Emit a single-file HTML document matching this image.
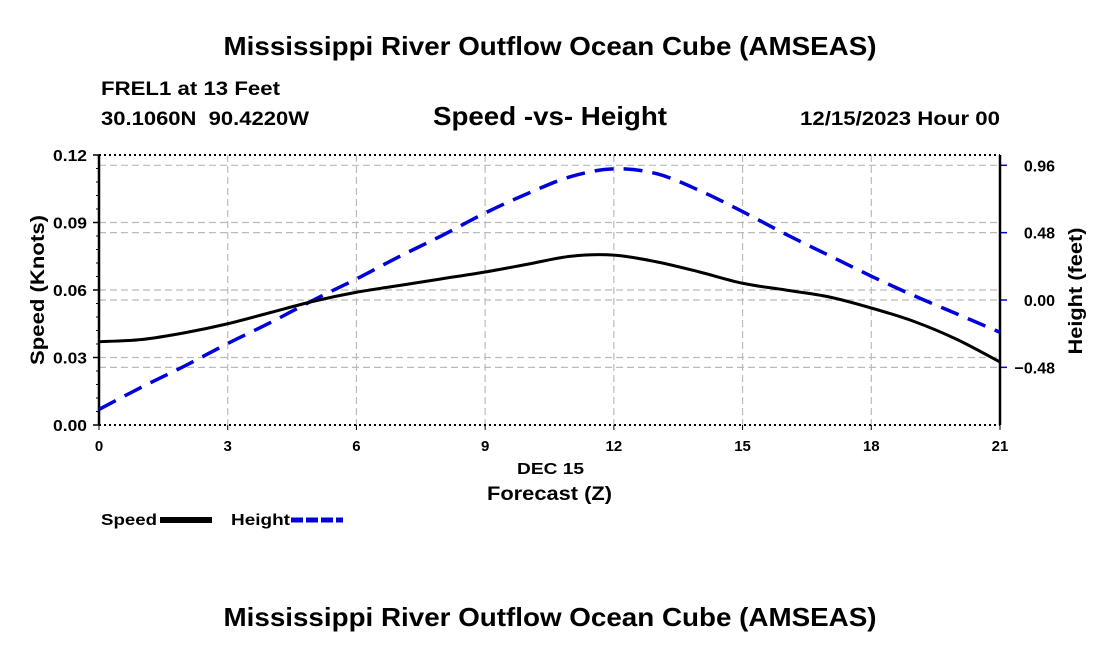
<!DOCTYPE html>
<html><head><meta charset="utf-8"><style>
body{margin:0;background:#fff;}
svg{display:block;font-family:"Liberation Sans",Arial,sans-serif;font-weight:bold;}
</style></head><body>
<svg id="chart" width="1100" height="650" viewBox="0 0 1100 650">
<text x="550" y="55" text-anchor="middle" font-size="26" textLength="653" lengthAdjust="spacingAndGlyphs">Mississippi River Outflow Ocean Cube (AMSEAS)</text>
<text x="101" y="95" font-size="19" textLength="179" lengthAdjust="spacingAndGlyphs">FREL1 at 13 Feet</text>
<text x="101" y="125" font-size="19" textLength="208" lengthAdjust="spacingAndGlyphs" xml:space="preserve">30.1060N  90.4220W</text>
<text x="433" y="125" font-size="26" textLength="234" lengthAdjust="spacingAndGlyphs">Speed -vs- Height</text>
<text x="800" y="125" font-size="19" textLength="200" lengthAdjust="spacingAndGlyphs">12/15/2023 Hour 00</text>
<g id="grid"></g>
<g id="axes"></g>
<g id="series"></g>
<text x="517" y="474" font-size="16" textLength="67" lengthAdjust="spacingAndGlyphs">DEC 15</text>
<text x="487" y="500" font-size="19" textLength="125" lengthAdjust="spacingAndGlyphs">Forecast (Z)</text>
<text transform="translate(44,290) rotate(-90)" text-anchor="middle" font-size="19" textLength="150" lengthAdjust="spacingAndGlyphs">Speed (Knots)</text>
<text transform="translate(1082,291) rotate(-90)" text-anchor="middle" font-size="19" textLength="127" lengthAdjust="spacingAndGlyphs">Height (feet)</text>
<g>
<text x="101" y="525" font-size="16" textLength="56" lengthAdjust="spacingAndGlyphs">Speed</text>
<line x1="160" y1="520" x2="212" y2="520" stroke="#000" stroke-width="6"/>
<text x="231" y="525" font-size="16" textLength="59" lengthAdjust="spacingAndGlyphs">Height</text>
<line x1="291" y1="520" x2="343" y2="520" stroke="#0000dd" stroke-width="5" stroke-dasharray="12,3"/>
</g>
<text x="550" y="626" text-anchor="middle" font-size="26" textLength="653" lengthAdjust="spacingAndGlyphs">Mississippi River Outflow Ocean Cube (AMSEAS)</text>
</svg>
<script>
const hours=[0,1,2,3,4,5,6,7,8,9,10,11,12,13,14,15,16,17,18,19,20,21];
const speed=[0.037,0.038,0.041,0.045,0.050,0.055,0.059,0.062,0.065,0.068,0.0715,0.075,0.0755,0.0725,0.068,0.063,0.060,0.057,0.052,0.046,0.038,0.028];
const height=[-0.78,-0.62,-0.47,-0.31,-0.16,0.0,0.15,0.31,0.46,0.62,0.76,0.88,0.935,0.90,0.78,0.63,0.47,0.32,0.17,0.03,-0.10,-0.23];
const xTicks=[0,3,6,9,12,15,18,21];
const leftTicks=[0,0.03,0.06,0.09,0.12];
const leftLabels=["0.00","0.03","0.06","0.09","0.12"];
const rightTicks=[-0.48,0,0.48,0.96];
const rightLabels=["\u22120.48","0.00","0.48","0.96"];

const X0=99,X1=1000,YT=155,YB=425;
const xs=h=>X0+(h/21)*(X1-X0);
const ysL=v=>YB-(v/0.12)*(YB-YT);
const ysR=v=>300-v*140.3;
const NS="http://www.w3.org/2000/svg";
function mk(parent,tag,attrs){const e=document.createElementNS(NS,tag);for(const k in attrs)e.setAttribute(k,attrs[k]);document.getElementById(parent).appendChild(e);return e;}

xTicks.forEach(t=>{
  if(t>0&&t<21){const g=mk('grid','line',{x1:xs(t),x2:xs(t),y1:YT,y2:YB,stroke:'#bbb','stroke-width':1.2,'stroke-dasharray':'7,4'});
  
  }
  const l=mk('axes','text',{x:xs(t),y:451,'text-anchor':'middle','font-size':15});l.textContent=t;
  
  
  mk('axes','line',{x1:xs(t),x2:xs(t),y1:YB,y2:YB+5,stroke:'#000','stroke-width':1});
});
leftTicks.forEach((t,i)=>{
  if(t>0&&t<0.12){const g=mk('grid','line',{x1:X0,x2:X1,y1:ysL(t),y2:ysL(t),stroke:'#bbb','stroke-width':1.2,'stroke-dasharray':'7,4'});
  
  }
  const l=mk('axes','text',{x:87,y:ysL(t)+6,'text-anchor':'end','font-size':16,textLength:34,lengthAdjust:'spacingAndGlyphs'});l.textContent=leftLabels[i];
  
  
  mk('axes','line',{x1:X0-6,x2:X0,y1:ysL(t),y2:ysL(t),stroke:'#000','stroke-width':1.5});
});
for(let v=0.006;v<0.12;v+=0.006){mk('axes','line',{x1:X0-3,x2:X0,y1:ysL(v),y2:ysL(v),stroke:'#000','stroke-width':1});}
rightTicks.forEach((t,i)=>{
  const g=mk('grid','line',{x1:X0,x2:X1,y1:ysR(t),y2:ysR(t),stroke:'#bbb','stroke-width':1.2,'stroke-dasharray':'7,4'});
  
  
  const l=mk('axes','text',{x:1055,y:ysR(t)+6,'text-anchor':'end','font-size':16});l.textContent=rightLabels[i];
  
  
  mk('axes','line',{x1:X1,x2:X1+7,y1:ysR(t),y2:ysR(t),stroke:'#0000dd','stroke-width':1.5});
});
mk('axes','line',{x1:X0,x2:X1,y1:YT,y2:YT,stroke:'#000','stroke-width':2,'stroke-dasharray':'2,3'});
mk('axes','line',{x1:X0,x2:X1,y1:YB,y2:YB,stroke:'#000','stroke-width':2,'stroke-dasharray':'2,3'});
const la=mk('axes','line',{x1:X0,x2:X0,y1:YT,y2:YB,stroke:'#000','stroke-width':2.5});


const ra=mk('axes','line',{x1:X1,x2:X1,y1:YT,y2:YB,stroke:'#000','stroke-width':2.5});



function smooth(pts){let d=`M${pts[0][0]},${pts[0][1]}`;
  for(let i=0;i<pts.length-1;i++){const p0=pts[Math.max(0,i-1)],p1=pts[i],p2=pts[i+1],p3=pts[Math.min(pts.length-1,i+2)];
    d+=` C${p1[0]+(p2[0]-p0[0])/6},${p1[1]+(p2[1]-p0[1])/6} ${p2[0]-(p3[0]-p1[0])/6},${p2[1]-(p3[1]-p1[1])/6} ${p2[0]},${p2[1]}`;}
  return d;}
const hp=mk('series','path',{d:smooth(hours.map((h,i)=>[xs(h),ysR(height[i])])),fill:'none',stroke:'#0000dd','stroke-width':3.5,'stroke-dasharray':'19,10'});


const sp=mk('series','path',{d:smooth(hours.map((h,i)=>[xs(h),ysL(speed[i])])),fill:'none',stroke:'#000','stroke-width':3});


</script>
</body></html>
